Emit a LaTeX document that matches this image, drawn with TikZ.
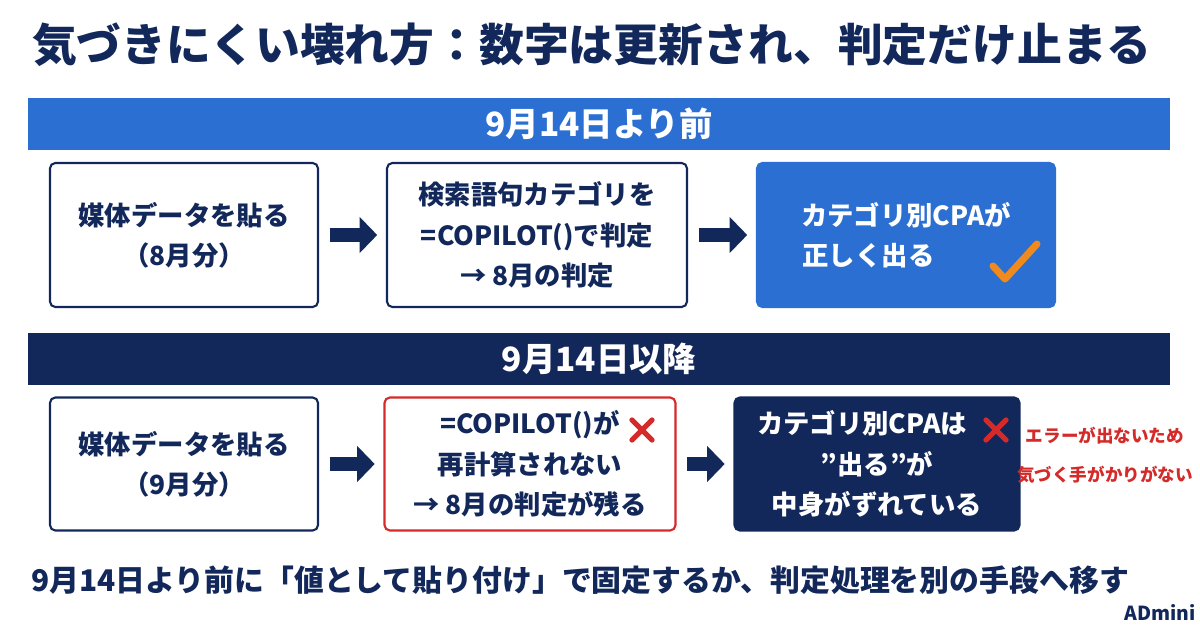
\documentclass[tikz,border=0pt]{standalone}
\usepackage{fontspec}
\setmainfont{Noto Sans CJK JP}[Ligatures=ResetAll]
\usetikzlibrary{positioning,arrows.meta}
\definecolor{navy}{HTML}{13285A}
\definecolor{bleu}{HTML}{2C6FD2}
\definecolor{rouge}{HTML}{D42A2A}
\definecolor{orange}{HTML}{F08A1C}
\begin{document}
\begin{tikzpicture}[x=0.02cm,y=-0.02cm,font=\bfseries]
% Styles
\tikzset{
  bandeau/.style={minimum width=22.84cm,minimum height=1.06cm,inner sep=0pt,text=white,font=\bfseries\fontsize{19}{22}\selectfont},
  boite/.style={draw=navy,line width=1.2pt,rounded corners=3pt,fill=white,text=navy,align=center,inner sep=0pt,font=\bfseries\fontsize{15}{23}\selectfont},
  pleine/.style={boite,text=white},
  fleche/.style={-{Triangle[length=10pt,width=20pt]},line width=8pt,navy,shorten <=6pt,shorten >=5pt},
  croix/.style={rouge,line width=3pt,line cap=round},
}
\useasboundingbox (0,0) rectangle (1200,628);
% Titre
\node[text=navy,font=\bfseries\fontsize{25.5}{30}\selectfont] (titre) at (592,45) {気づきにくい壊れ方：数字は更新され、判定だけ止まる};
% Avant le 14
\node[bandeau,fill=bleu] (avant) at (599,124) {9月14日より前};
\node[boite,minimum width=5.36cm,minimum height=2.88cm] (a1) at (184,235) {媒体データを貼る\\（8月分）};
\node[boite,minimum width=6cm,minimum height=2.88cm] (a2) at (537,235) {検索語句カテゴリを\\=COPILOT()で判定\\→ 8月の判定};
\node[pleine,fill=bleu,draw=bleu,minimum width=5.96cm,minimum height=2.88cm] (a3) at (906,235) {カテゴリ別CPAが\\正しく出る\hspace{1.5cm}\mbox{}};
\draw[orange,line width=4pt,line cap=round,line join=round] (993,266) -- (1005,279) -- (1037,244);
\draw[fleche] (a1) -- (a2);
\draw[fleche] (a2) -- (a3);
% Apres le 14
\node[bandeau,fill=navy] (apres) at (599,359) {9月14日以降};
\node[boite,minimum width=5.36cm,minimum height=2.66cm] (b1) at (184,464) {媒体データを貼る\\（9月分）};
\node[boite,draw=rouge,minimum width=5.82cm,minimum height=2.66cm] (b2) at (530,464) {=COPILOT()が\\再計算されない\\→ 8月の判定が残る};
\node[pleine,fill=navy,minimum width=5.7cm,minimum height=2.66cm] (b3) at (877,464) {カテゴリ別CPAは\hspace{0.6cm}\mbox{}\\"出る"が\\中身がずれている};
\draw[fleche] (b1) -- (b2);
\draw[fleche] (b2) -- (b3);
\draw[croix] (632,420) -- (652,440) (652,420) -- (632,440);
\draw[croix] (986,420) -- (1006,440) (1006,420) -- (986,440);
\node[text=rouge,align=center,font=\bfseries\fontsize{10}{22}\selectfont] (note) at (1105,455) {エラーが出ないため\\気づく手がかりがない};
% Conseil
\node[text=navy,font=\bfseries\fontsize{17}{20}\selectfont] (conseil) at (580,580) {9月14日より前に「値として貼り付け」で固定するか、判定処理を別の手段へ移す};
\node[text=navy,font=\bfseries\fontsize{11}{13}\selectfont] (logo) at (1160,612) {ADmini};
\end{tikzpicture}
\end{document}
